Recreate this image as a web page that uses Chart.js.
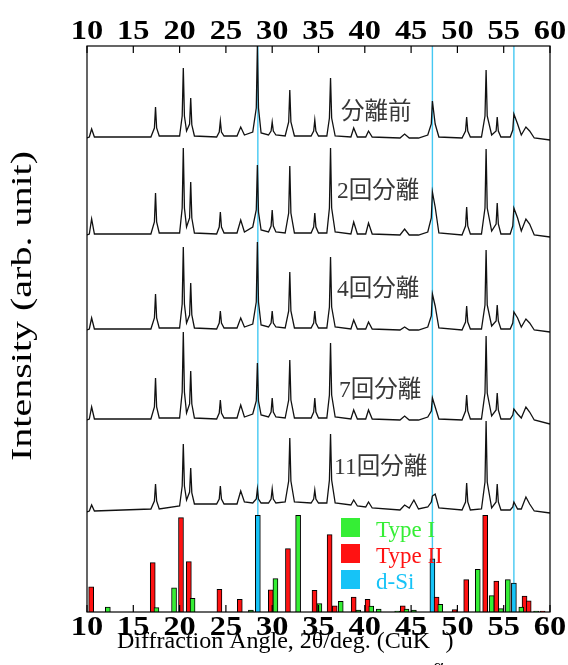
<!DOCTYPE html>
<html lang="ja">
<head>
<meta charset="utf-8">
<title>XRD 分離回数</title>
<script src="https://cdn.jsdelivr.net/npm/chart.js@4.4.1/dist/chart.umd.min.js"></script>
<style>
    html, body { margin: 0; padding: 0; background: #fff; }
    canvas { display: block; }
</style>
</head>
<body>
<canvas id="xrdChart" width="568" height="665"></canvas>
<script>
"use strict";

// 2θ grid (deg.) shared by every measured pattern
const angles = [
    10, 10.25, 10.5, 10.8,
    16.9, 17.28, 17.4, 17.52, 17.8,
    20.0, 20.28, 20.4, 20.52, 20.75, 21.08, 21.2, 21.32, 21.6,
    24.0, 24.28, 24.4, 24.52, 24.8,
    26.2, 26.6, 27.0,
    27.9, 28.28, 28.4, 28.52, 28.8,
    29.6, 29.88, 30.0, 30.12, 30.4,
    31.4, 31.78, 31.9, 32.02, 32.4,
    34.2, 34.48, 34.6, 34.72, 35.0,
    35.9, 36.18, 36.3, 36.42, 36.8,
    38.5, 38.8, 39.2,
    40.1, 40.4, 40.8,
    43.8, 44.3, 44.8, 45.3, 45.8,
    46.8, 47.18, 47.3, 47.6, 48.0,
    50.5, 50.88, 51.0, 51.12, 51.4,
    52.6, 52.98, 53.1, 53.22, 53.7, 54.18, 54.3, 54.42, 54.7,
    55.7, 55.98, 56.1, 56.5, 56.9, 57.4, 57.8, 58.3,
    60
];

// intensities above each pattern's own baseline (arb. unit)
const patternBefore = [
    0, 1, 9, 1,
    1, 10, 31, 10, 2,
    2, 22, 70, 22, 7, 14, 40, 13, 2,
    1, 6, 17, 6, 2,
    2, 11, 3,
    6, 30, 92, 30, 5,
    3, 7, 16, 7, 3,
    2, 16, 48, 16, 2,
    2, 7, 18, 7, 2,
    2, 20, 60, 20, 2,
    1, 10, 1,
    1, 7, 1,
    0, 4, 0, 0, 0,
    3, 14, 37, 14, 1,
    0, 7, 21, 7, 1,
    1, 22, 68, 22, 3, 7, 21, 7, 1,
    1, 8, 24, 14, 3, 11, 7, 0,
    -2
];
const pattern2 = [
    0, 1, 16, 1,
    1, 13, 42, 13, 2,
    2, 27, 87, 27, 8, 17, 53, 17, 2,
    1, 8, 23, 8, 2,
    2, 15, 3,
    8, 25, 70, 23, 5,
    3, 9, 25, 9, 3,
    2, 22, 69, 22, 2,
    2, 8, 22, 8, 2,
    2, 27, 87, 27, 3,
    1, 13, 1,
    1, 12, 1,
    0, 6, 0, 0, 0,
    3, 17, 43, 28, 2,
    0, 9, 28, 9, 1,
    1, 27, 86, 27, 4, 11, 32, 11, 1,
    1, 9, 27, 17, 4, 16, 11, 0,
    -2
];
const pattern4 = [
    0, 1, 12, 1,
    1, 12, 36, 12, 2,
    2, 26, 83, 26, 7, 15, 47, 15, 2,
    1, 7, 19, 7, 2,
    2, 12, 3,
    6, 28, 88, 28, 5,
    3, 7, 19, 7, 3,
    2, 19, 58, 19, 2,
    2, 7, 19, 7, 2,
    2, 23, 73, 23, 3,
    1, 10, 1,
    1, 8, 1,
    0, 3, 0, 0, 0,
    3, 14, 36, 24, 2,
    0, 8, 24, 8, 1,
    1, 25, 80, 25, 4, 9, 25, 9, 1,
    1, 7, 18, 12, 3, 11, 7, 0,
    -2
];
const pattern7 = [
    0, 1, 13, 1,
    1, 13, 42, 13, 2,
    2, 28, 88, 28, 7, 16, 49, 16, 2,
    1, 7, 20, 7, 2,
    2, 15, 3,
    6, 19, 57, 19, 5,
    3, 8, 22, 8, 3,
    2, 20, 60, 20, 2,
    2, 8, 22, 8, 2,
    2, 25, 77, 25, 3,
    1, 10, 1,
    1, 10, 1,
    0, 4, 0, 0, 0,
    3, 9, 22, 13, 1,
    0, 9, 25, 9, 1,
    1, 27, 84, 27, 4, 10, 27, 10, 1,
    1, 5, 11, 6, 2, 13, 8, 0,
    -4
];
const pattern11 = [
    0, 1, 7, 1,
    3, 11, 28, 11, 3,
    6, 26, 68, 26, 12, 20, 44, 19, 8,
    8, 13, 26, 13, 8,
    8, 21, 10,
    9, 13, 23, 13, 9,
    9, 13, 23, 13, 9,
    10, 31, 74, 31, 10,
    9, 13, 22, 13, 9,
    9, 32, 78, 32, 9,
    7, 12, 6,
    5, 10, 4,
    2, 7, 4, 12, 3,
    5, 10, 16, 18, 4,
    2, 10, 29, 10, 2,
    3, 30, 91, 30, 4, 10, 28, 10, 2,
    2, 5, 10, 3, 3, 15, 8, 1,
    -1
];

const patterns = [patternBefore, pattern2, pattern4, pattern7, pattern11];
const patternNames = ["分離前", "2回分離", "4回分離", "7回分離", "11回分離"];
const patternOffsets = [474, 377, 282, 192, 100];

// reference peaks, relative intensity (%)
const typeIAngles = [12.25, 17.5, 19.4, 21.4, 27.7, 30.35, 32.8, 35.1, 37.4, 39.3, 40.7, 41.5, 43.5, 44.5, 45.3, 48.15, 52.2, 53.7, 54.7, 55.45, 56.9, 58.5];
const typeIIntensity = [5, 4.5, 25, 14, 2, 34.5, 100, 8.6, 11, 2, 6, 3, 1, 3, 2, 8, 44, 17, 3.5, 33.5, 5, 1];
const typeIIAngles = [10.45, 17.1, 20.15, 21.0, 24.3, 26.5, 29.85, 31.7, 34.57, 36.2, 36.75, 38.8, 40.3, 44.1, 47.75, 49.7, 50.95, 53.0, 54.2, 57.25, 57.7, 59.2];
const typeIIIntensity = [26, 51, 97.5, 52, 23.5, 13, 23, 65.5, 22.5, 80, 6.5, 15.5, 13, 6.5, 15.5, 2.5, 33.5, 100, 32, 16.5, 11.5, 1];
const siAngles = [28.45, 47.3, 56.1];
const siIntensity = [100, 55, 30];

const tickAngles = [10, 15, 20, 25, 30, 35, 40, 45, 50, 55, 60];

const GREEN = "#35ee35";
const RED = "#ff1212";
const CYAN = "#16c3f7";

function points(xs, ys, shift) {
    return xs.map((x, i) => ({ x: x, y: ys[i] + (shift || 0) }));
}

function barSet(label, xs, ys, color) {
    return {
        type: "bar",
        label: label,
        data: points(xs, ys),
        yAxisID: "yBar",
        backgroundColor: color,
        borderColor: "#000",
        borderWidth: 1,
        barThickness: 5,
        grouped: false,
        order: 2
    };
}

// text squeezed or widened along its baseline
function wideText(ctx, text, x, y, sx) {
    ctx.save();
    ctx.translate(x, y);
    ctx.scale(sx, 1);
    ctx.fillText(text, 0, 0);
    ctx.restore();
}

const datasets = [];
patterns.forEach((values, i) => {
    datasets.push({
        type: "line",
        label: patternNames[i],
        data: points(angles, values, patternOffsets[i]),
        borderColor: "#111",
        borderWidth: 1.3,
        pointRadius: 0,
        tension: 0,
        yAxisID: "y",
        order: 1
    });
});
datasets.push(barSet("Type I", typeIAngles, typeIIntensity, GREEN));
datasets.push(barSet("Type II", typeIIAngles, typeIIIntensity, RED));
datasets.push(barSet("d-Si", siAngles, siIntensity, CYAN));
// d-Si guide lines through the full height
siAngles.forEach(angle => {
    datasets.push({
        type: "line",
        data: [{ x: angle, y: 0 }, { x: angle, y: 566 }],
        borderColor: "#45c8f2",
        borderWidth: 1.4,
        pointRadius: 0,
        yAxisID: "y",
        order: 3
    });
});

const decorations = {
    id: "decorations",
    beforeDraw(chart) {
        const ctx = chart.ctx;
        ctx.save();
        ctx.fillStyle = "#fff";
        ctx.fillRect(0, 0, chart.width, chart.height);
        ctx.restore();
    },
    afterDraw(chart) {
        const { ctx, chartArea: a } = chart;
        const x = chart.scales.x;
        ctx.save();

        // frame and inward ticks
        ctx.strokeStyle = "#000";
        ctx.lineWidth = 1.2;
        ctx.strokeRect(a.left, a.top, a.right - a.left, a.bottom - a.top);
        ctx.beginPath();
        tickAngles.forEach(t => {
            const px = x.getPixelForValue(t);
            ctx.moveTo(px, a.top);
            ctx.lineTo(px, a.top + 7);
            ctx.moveTo(px, a.bottom);
            ctx.lineTo(px, a.bottom - 7);
        });
        ctx.stroke();

        // tick labels top and bottom
        ctx.fillStyle = "#000";
        ctx.font = "bold 27px 'Liberation Serif'";
        ctx.textAlign = "center";
        ctx.textBaseline = "alphabetic";
        tickAngles.forEach(t => {
            const px = x.getPixelForValue(t);
            wideText(ctx, String(t), px, 39, 1.2);
            wideText(ctx, String(t), px, 635, 1.2);
        });

        // axis titles
        ctx.textAlign = "left";
        ctx.font = "24px 'Liberation Serif'";
        const head = "Diffraction Angle, 2θ/deg. (CuK";
        ctx.fillText(head, 117, 648);
        const w = ctx.measureText(head).width;
        ctx.font = "20px 'Liberation Serif'";
        ctx.fillText("α", 117 + w + 3, 673);
        const wa = ctx.measureText("α").width;
        ctx.font = "24px 'Liberation Serif'";
        ctx.fillText(")", 117 + w + wa + 5, 648);

        ctx.save();
        ctx.translate(23, 306);
        ctx.rotate(-Math.PI / 2);
        ctx.textAlign = "center";
        ctx.textBaseline = "middle";
        ctx.font = "29px 'Liberation Serif'";
        wideText(ctx, "Intensity (arb. unit)", 0, 0, 1.38);
        ctx.restore();

        // pattern names
        const spots = [[341, 113], [337, 192], [337, 290], [339, 391], [334, 468]];
        ctx.font = "23.5px 'Liberation Serif', 'Noto Sans CJK JP'";
        ctx.fillStyle = "#383838";
        ctx.textBaseline = "middle";
        patternNames.forEach((name, i) => {
            ctx.fillText(name, spots[i][0], spots[i][1]);
        });

        // legend for reference peaks
        const legend = [["Type I", GREEN, 518], ["Type II", RED, 544], ["d-Si", CYAN, 570]];
        ctx.font = "23px 'Liberation Serif'";
        ctx.textBaseline = "alphabetic";
        legend.forEach(([label, color, top]) => {
            ctx.fillStyle = color;
            ctx.fillRect(341, top, 19, 19);
            ctx.fillText(label, 376, top + 19);
        });

        ctx.restore();
    }
};

new Chart(document.getElementById("xrdChart").getContext("2d"), {
    type: "line",
    data: { datasets: datasets },
    options: {
        responsive: false,
        animation: false,
        devicePixelRatio: 1,
        layout: { padding: { left: 87, top: 46, right: 18, bottom: 53 } },
        plugins: { legend: { display: false }, tooltip: { enabled: false } },
        scales: {
            x: { type: "linear", min: 10, max: 60, offset: false, display: false },
            y: { type: "linear", min: 0, max: 566, display: false },
            yBar: { type: "linear", min: 0, max: 585, display: false }
        }
    },
    plugins: [decorations]
});
</script>
</body>
</html>
